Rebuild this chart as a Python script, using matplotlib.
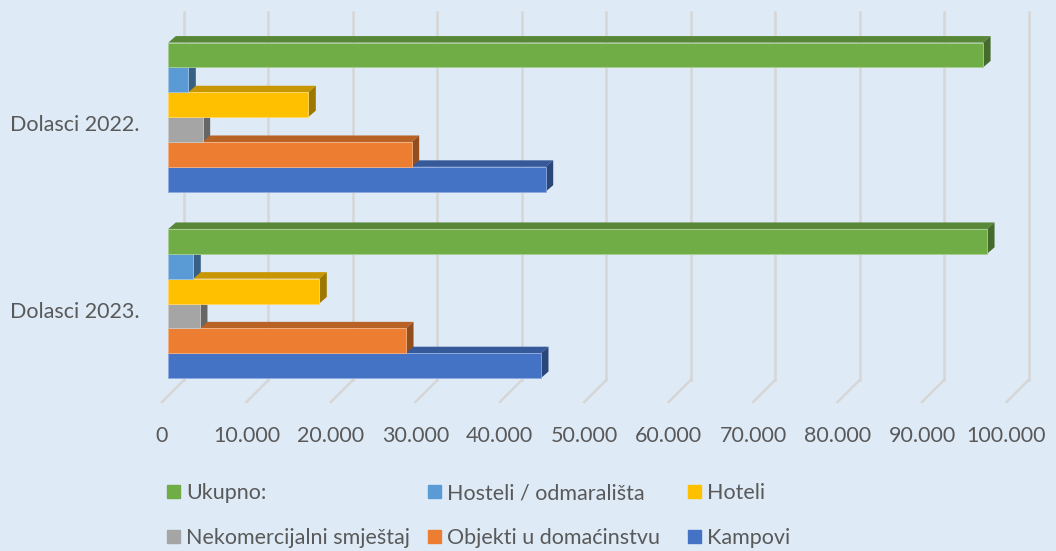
import numpy as np
import matplotlib
matplotlib.use("Agg")
import matplotlib.pyplot as plt
from matplotlib.patches import Patch
from matplotlib.transforms import ScaledTranslation
from matplotlib.colors import to_rgb

# data (order: 2023, 2022)
categories = ["Dolasci 2023.", "Dolasci 2022."]
series = ["Kampovi", "Objekti u domaćinstvu", "Nekomercijalni smještaj",
          "Hoteli", "Hosteli / odmarališta", "Ukupno:"]
kampovi = [44130, 44690]
objekti = [28150, 28820]
nekomercijalni = [3750, 4070]
hoteli = [17880, 16580]
hosteli = [2960, 2370]
ukupno = [96950, 96480]
colors = ["#4472C4", "#ED7D31", "#A5A5A5", "#FFC000", "#5B9BD5", "#70AD47"]
ticks = list(range(0, 100001, 10000))

BG = "#DEEBF7"
TXT = "#595959"
GRID = "#D6D6D6"
FONT = "Lato"

# pixel geometry of the picture
W, H = 1056, 551
AX_L, AX_R, AX_T, AX_B = 168.3, 1012.8, 12, 402
UNIT = 24.85      # px per bar height
Y0 = 303.5        # px of the 2023 group centre
XMAX = 100000
px_x = (AX_R - AX_L) / XMAX

fig = plt.figure(figsize=(W / 100, H / 100), dpi=100, facecolor=BG)
ax = fig.add_axes([AX_L / W, 1 - AX_B / H, (AX_R - AX_L) / W, (AX_B - AX_T) / H])
ax.set_facecolor(BG)
ax.set_xlim(0, XMAX)
ylo, yhi = (Y0 - AX_B) / UNIT, (Y0 - AX_T) / UNIT
ax.set_ylim(ylo, yhi)
for s in ax.spines.values():
    s.set_visible(False)


def dx(px):
    return px / px_x


def dy(px):
    return px / UNIT


# fit the font size to the width of the category label
r = fig.canvas.get_renderer()
t = fig.text(0, 0, "Dolasci 2022.", fontsize=10, family=FONT)
fs = 10 * 130 / t.get_window_extent(r).width
t.remove()
fs_px = fs * 100 / 72

# back wall grid + floor lines
yback = (Y0 - 380) / UNIT
for v in ticks:
    xb = v + dx(15.7)
    xf = v + dx(-6.3)
    ax.plot([xb, xb], [yback, yhi], color=GRID, lw=1.8, zorder=0, clip_on=False)
    ax.plot([xb, xf], [yback, ylo], color=GRID, lw=1.8, zorder=0, clip_on=False)

# 3d-ish bars
group_pos = np.array([0.0, 7.5])
offsets = [-2.5, -1.5, -0.5, 0.5, 1.5, 2.5]
data = [kampovi, objekti, nekomercijalni, hoteli, hosteli, ukupno]
ddx, ddy = dx(7.5), dy(6.5)
for i, (vals, col) in enumerate(zip(data, colors)):
    base = np.array(to_rgb(col))
    top_c = base * 0.78
    side_c = base * 0.62
    z = 2 + i * 3
    for g, v in zip(group_pos, vals):
        yb = g + offsets[i] - 0.5
        yt = yb + 1
        ax.fill([0, v, v + ddx, ddx], [yt, yt, yt + ddy, yt + ddy],
                color=top_c, lw=0, zorder=z)
        ax.fill([v, v + ddx, v + ddx, v], [yb, yb + ddy, yt + ddy, yt],
                color=side_c, lw=0, zorder=z + 1)
    ax.barh(group_pos + offsets[i], vals, height=1, color=col, lw=0.6,
            edgecolor=tuple(base * 0.6 + 0.4), zorder=z + 2)

# axis labels
ax.set_xticks(ticks)
ax.set_xticklabels([f"{v:,}".replace(",", ".") for v in ticks])
ax.set_yticks(group_pos)
ax.set_yticklabels(categories)
ax.tick_params(length=0, labelcolor=TXT, labelsize=fs)
ax.tick_params(axis="x", pad=(439 - AX_B - 0.62 * fs_px) * 0.72)
ax.tick_params(axis="y", pad=(AX_L - 140) * 0.72)
for lab in ax.get_xticklabels() + ax.get_yticklabels():
    lab.set_family(FONT)
for lab in ax.get_xticklabels():
    lab.set_transform(lab.get_transform() + ScaledTranslation(-6.3 / 100, 0, fig.dpi_scale_trans))
for lab in ax.get_yticklabels():
    lab.set_transform(lab.get_transform() + ScaledTranslation(0, -6 / 100, fig.dpi_scale_trans))

# legend: three equal-width columns, one small legend per column
handles = [Patch(color=c, label=s) for c, s in zip(colors, series)]
columns = [[5, 2], [4, 1], [3, 0]]
col_x = [167.3, 428, 688]
for idx, x0 in zip(columns, col_x):
    leg = fig.legend([handles[k] for k in idx], [series[k] for k in idx],
                     loc="upper left",
                     bbox_to_anchor=(x0 / W, 1 - (496 - 0.6 * fs_px) / H),
                     frameon=False, borderpad=0, borderaxespad=0,
                     handlelength=13 / fs_px, handleheight=13 / fs_px,
                     handletextpad=6 / fs_px,
                     labelspacing=(51 - 1.2 * fs_px) / fs_px,
                     prop={"family": FONT, "size": fs})
    for txt in leg.get_texts():
        txt.set_color(TXT)

fig.savefig("out.png", dpi=100, facecolor=BG)
